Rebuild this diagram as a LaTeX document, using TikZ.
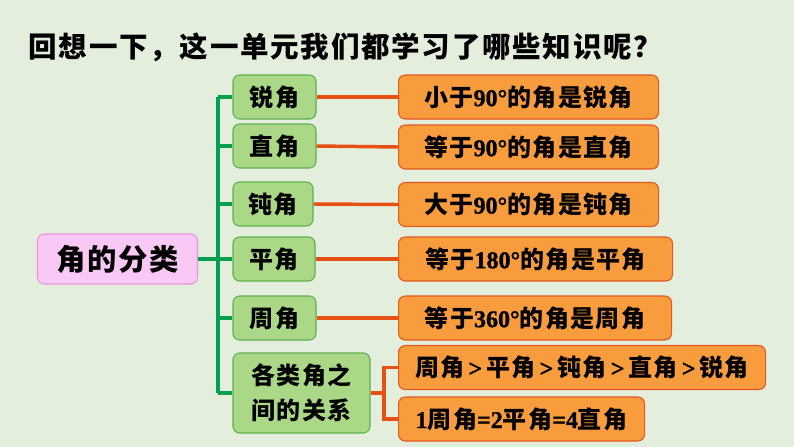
\documentclass[tikz,border=0pt]{standalone}
\usepackage{fontspec}
\setmainfont{Noto Sans CJK SC}[LetterSpace=6]
\newfontfamily\numfont{Liberation Serif}[UprightFont={* Bold}, BoldFont={* Bold}, FakeBold=1.2]
\usetikzlibrary{positioning}
\newcommand{\nm}[1]{{\numfont #1}}
\definecolor{bgcol}{RGB}{228,238,220}
\definecolor{pinkfill}{RGB}{250,200,245}
\definecolor{pinkline}{RGB}{232,150,220}
\definecolor{kindfill}{RGB}{170,216,135}
\definecolor{kindline}{RGB}{95,175,80}
\definecolor{factfill}{RGB}{248,156,62}
\definecolor{factline}{RGB}{226,88,32}
\definecolor{trunkcol}{RGB}{0,160,80}
\definecolor{twigcol}{RGB}{230,80,20}
\tikzset{
  rootbox/.style={
    rectangle, rounded corners=5pt, draw=pinkline, fill=pinkfill, line width=0.8pt,
    minimum width=120pt, minimum height=37.5pt, align=center,
    font=\fontsize{22}{24}\selectfont\bfseries
  },
  kindbox/.style={
    rectangle, rounded corners=5pt, draw=kindline, fill=kindfill, line width=0.8pt,
    minimum height=33pt, align=center, inner sep=2pt,
    font=\fontsize{18}{26}\selectfont\bfseries
  },
  factbox/.style={
    rectangle, rounded corners=5pt, draw=factline, fill=factfill, line width=0.8pt,
    minimum height=33pt, align=center, anchor=west, inner sep=2pt,
    font=\fontsize{18}{20}\selectfont\bfseries
  },
  trunk/.style={line width=3pt, draw=trunkcol},
  twig/.style={line width=2.6pt, draw=twigcol},
  heading/.style={anchor=west, font=\fontsize{21.4}{24}\selectfont\bfseries}
}
\begin{document}
\begin{tikzpicture}[x=0.75pt,y=-0.75pt]
  \fill[bgcol] (0,0) rectangle (794,447);
  \useasboundingbox (0,0) rectangle (794,447);

  \node[heading] (title) at (24,47) {回想一下，这一单元我们都学习了哪些知识呢？};

  \node[rootbox] (root) at (117.5,259) {角的分类};

  \node[kindbox, minimum width=62.25pt] (acute) at (274.5,97) {锐角};
  \node[kindbox, minimum width=62.25pt] (right) at (274.5,146) {直角};
  \node[kindbox, minimum width=60pt] (obtuse) at (273,204) {钝角};
  \node[kindbox, minimum width=61.5pt] (straight) at (274,259) {平角};
  \node[kindbox, minimum width=62.25pt] (full) at (274.5,318) {周角};
  \node[kindbox, minimum width=102.75pt, minimum height=60pt] (rel) at (301.5,393)
    {各类角之\\间的关系};

  \node[factbox, minimum width=195pt] (facute) at (398,97) {小于\nm{90°}的角是锐角};
  \node[factbox, minimum width=195pt] (fright) at (398,147) {等于\nm{90°}的角是直角};
  \node[factbox, minimum width=195pt] (fobtuse) at (398,204.5) {大于\nm{90°}的角是钝角};
  \node[factbox, minimum width=205.5pt] (fstraight) at (398,259) {等于\nm{180°}的角是平角};
  \node[factbox, minimum width=204.75pt] (ffull) at (398,318) {等于\nm{360°}的角是周角};
  \node[factbox, minimum width=275.25pt] (order) at (398,367.5)
    {周角\nm{\,>\,}平角\nm{\,>\,}钝角\nm{\,>\,}直角\nm{\,>\,}锐角};
  \node[factbox, minimum width=184.5pt] (ratio) at (398,419)
    {\nm{1}周角\nm{=2}平角\nm{=4}直角};

  \coordinate (spine) at (218,259);
  \coordinate (fork) at (384,393);

  % green tree
  \draw[trunk] (root.east) -- (root.east -| spine);
  \draw[trunk] (acute.west -| spine) -- (rel.west -| spine);
  \foreach \n in {acute,right,obtuse,straight,full,rel}
    \draw[trunk] (\n.west -| spine) -- (\n.west);

  % orange twigs
  \draw[twig] (acute.east) -- (facute.west);
  \draw[twig] (right.east) -- (fright.west);
  \draw[twig] (obtuse.east) -- (fobtuse.west);
  \draw[twig] (straight.east) -- (fstraight.west);
  \draw[twig] (full.east) -- (ffull.west);
  \draw[twig] (rel.east) -- (fork);
  \draw[twig] (order.west) -| (fork) |- (ratio.west);
\end{tikzpicture}
\end{document}
